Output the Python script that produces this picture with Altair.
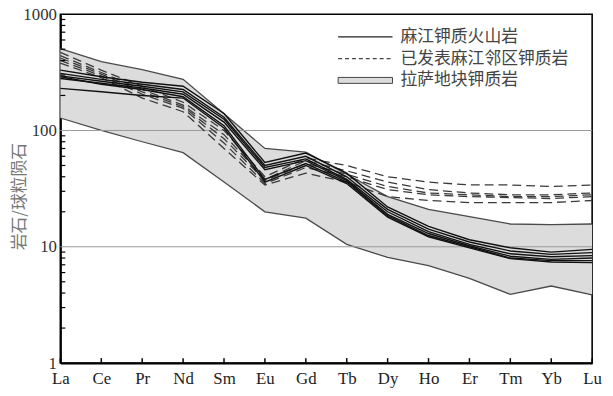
import altair as alt
import pandas as pd

elements = ["La", "Ce", "Pr", "Nd", "Sm", "Eu", "Gd", "Tb", "Dy", "Ho", "Er", "Tm", "Yb", "Lu"]

# Lhasa block potassic rocks (envelope)
band_upper = [505, 390, 333, 275, 139, 70, 65, 42, 27, 21, 18.2, 15.7, 15.5, 15.7]
band_lower = [128, 100, 80, 64.5, 36, 20, 17.6, 10.5, 8.1, 6.9, 5.35, 3.9, 4.6, 3.86]

# Majiang potassic volcanic rocks (solid)
mj1 = [330, 290, 260, 240, 140, 53, 64, 43, 22, 15, 11.5, 9.8, 9.0, 9.5]
mj2 = [310, 275, 250, 225, 130, 50, 60, 40, 21, 14.2, 11, 9.2, 8.6, 8.9]
mj3 = [295, 265, 240, 215, 125, 48, 57, 38, 20, 13.5, 10.5, 8.7, 8.2, 8.4]
mj4 = [280, 255, 232, 205, 118, 46, 55, 37, 19, 13, 10.2, 8.3, 7.8, 8.0]
mj5 = [290, 250, 225, 195, 110, 38, 52, 36, 18.5, 12.5, 10, 8.0, 7.6, 7.6]
mj6 = [230, 215, 200, 190, 105, 36, 50, 35, 18, 12.2, 9.8, 7.9, 7.4, 7.3]

# published nearby potassic rocks (dashed)
pb1 = [470, 330, 240, 175, 100, 40, 58, 50, 40, 36, 34, 34, 33, 34]
pb2 = [440, 315, 225, 165, 92, 38, 55, 45, 36, 31, 29, 28, 28, 29]
pb3 = [420, 305, 215, 160, 85, 37, 52, 42, 33, 29, 28, 27, 27, 28]
pb4 = [400, 295, 205, 155, 78, 35, 48, 40, 31, 28, 27, 26.5, 26, 27]
pb5 = [380, 285, 190, 145, 70, 34, 43, 36, 27, 25, 24, 24, 24, 25]

grid_values = [10, 100]
minor_ticks = [v * m for m in [1, 10, 100] for v in range(2, 10)]
legend_labels = ["麻江钾质火山岩", "已发表麻江邻区钾质岩", "拉萨地块钾质岩"]
y_title = "岩石/球粒陨石"

W, H = 538, 353

band_df = pd.DataFrame({"el": elements, "upper": band_upper, "lower": band_lower})
band_edges = pd.DataFrame(
    [{"el": e, "v": u, "s": "upper"} for e, u in zip(elements, band_upper)]
    + [{"el": e, "v": l, "s": "lower"} for e, l in zip(elements, band_lower)]
)


def to_long(series):
    rows = []
    for name, vals in series.items():
        for e, v in zip(elements, vals):
            rows.append({"el": e, "v": v, "s": name})
    return pd.DataFrame(rows)


mj_df = to_long({"mj1": mj1, "mj2": mj2, "mj3": mj3, "mj4": mj4, "mj5": mj5, "mj6": mj6})
pb_df = to_long({"pb1": pb1, "pb2": pb2, "pb3": pb3, "pb4": pb4, "pb5": pb5})

xscale = alt.Scale(type="point", padding=0)
yscale = alt.Scale(type="log", domain=[1, 1000])

X = alt.X(
    "el:O",
    sort=elements,
    scale=xscale,
    axis=alt.Axis(
        title=None,
        labelAngle=0,
        ticks=False,
        labelFont="Liberation Serif",
        labelFontSize=17,
        labelColor="#222",
        labelPadding=8,
        domainColor="black",
        domainWidth=2,
    ),
)

Y_axis = alt.Axis(
    title=y_title,
    values=[1, 10, 100, 1000],
    format="d",
    ticks=False,
    grid=False,
    labelFont="Liberation Serif",
    labelFontSize=17,
    labelColor="#333",
    labelPadding=4,
    domainColor="black",
    domainWidth=2,
    titleFont="Noto Sans CJK SC",
    titleFontSize=17,
    titleFontWeight="normal",
    titleColor="#777",
    titleX=-41,
    titleY=184,
    titleBaseline="middle",
    titleAlign="center",
)

area = alt.Chart(band_df).mark_area(color="#dcdcdc", opacity=1).encode(
    x=X,
    y=alt.Y("upper:Q", scale=yscale, axis=Y_axis),
    y2="lower:Q",
)

edges = alt.Chart(band_edges).mark_line(color="#4a4a4a", strokeWidth=1.3).encode(
    x=alt.X("el:O", sort=elements, scale=xscale),
    y=alt.Y("v:Q", scale=yscale),
    detail="s:N",
)

grid = alt.Chart(pd.DataFrame({"g": grid_values})).mark_rule(color="#9a9a9a", strokeWidth=1).encode(
    y=alt.Y("g:Q", scale=yscale)
)

dashed = alt.Chart(pb_df).mark_line(color="#3a3a3a", strokeWidth=1.3, strokeDash=[9, 5]).encode(
    x=alt.X("el:O", sort=elements, scale=xscale),
    y=alt.Y("v:Q", scale=yscale),
    detail="s:N",
)

solid = alt.Chart(mj_df).mark_line(color="#111111", strokeWidth=1.4).encode(
    x=alt.X("el:O", sort=elements, scale=xscale),
    y=alt.Y("v:Q", scale=yscale),
    detail="s:N",
)

xticks = alt.Chart(pd.DataFrame({"el": elements})).mark_rule(color="black", strokeWidth=1.5).encode(
    x=alt.X("el:O", sort=elements, scale=xscale),
    y=alt.value(H),
    y2=alt.value(H - 5),
)

yticks = alt.Chart(pd.DataFrame({"t": minor_ticks})).mark_rule(color="black", strokeWidth=1.2).encode(
    y=alt.Y("t:Q", scale=yscale),
    x=alt.value(0),
    x2=alt.value(5),
)

leg_font = dict(font="Noto Sans CJK SC", fontSize=17, color="#444", align="left", baseline="middle")
leg_data = pd.DataFrame({"a": [0]})
leg1_line = alt.Chart(leg_data).mark_rule(color="#222", strokeWidth=1.2).encode(
    x=alt.value(281), x2=alt.value(336), y=alt.value(23)
)
leg2_line = alt.Chart(leg_data).mark_rule(color="#444", strokeWidth=1.2, strokeDash=[4, 3]).encode(
    x=alt.value(281), x2=alt.value(336), y=alt.value(45)
)
leg3_rect = alt.Chart(leg_data).mark_rect(color="#dcdcdc", stroke="#444", strokeWidth=1).encode(
    x=alt.value(281), x2=alt.value(336), y=alt.value(64), y2=alt.value(70)
)
leg1_text = alt.Chart(leg_data).mark_text(**leg_font).encode(
    x=alt.value(344), y=alt.value(23), text=alt.value(legend_labels[0])
)
leg2_text = alt.Chart(leg_data).mark_text(**leg_font).encode(
    x=alt.value(344), y=alt.value(45), text=alt.value(legend_labels[1])
)
leg3_text = alt.Chart(leg_data).mark_text(**leg_font).encode(
    x=alt.value(344), y=alt.value(67), text=alt.value(legend_labels[2])
)

chart = alt.layer(
    area, edges, grid, dashed, solid, xticks, yticks,
    leg1_line, leg2_line, leg3_rect, leg1_text, leg2_text, leg3_text,
).properties(
    width=W,
    height=H,
    autosize=alt.AutoSizeParams(type="none"),
    padding={"left": 53, "top": 4, "right": 13, "bottom": 26},
    background="white",
).configure_view(
    stroke="black", strokeWidth=1.6
)

chart.save("out.html", embed_options={"renderer": "svg", "actions": False})
